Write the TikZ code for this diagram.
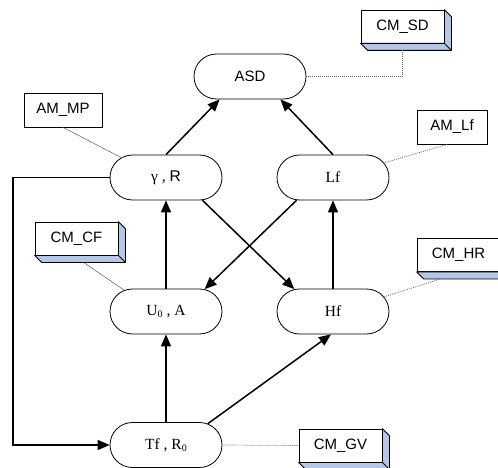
\documentclass[tikz,border=0pt]{standalone}
\usepackage{fontspec}
\setmainfont{Liberation Serif}
\newfontfamily\arialf{Liberation Sans}
\usetikzlibrary{arrows.meta,shapes.misc}
\definecolor{shadeblue}{HTML}{B4C7E7}
\newcommand\subz{\raisebox{-0.12em}{\fontsize{10}{10}\selectfont 0}}
\newcommand\extrude[1]{%
  \filldraw[fill=shadeblue,draw=black,line width=0.8pt,line join=round]
    (#1.north east) -- ([shift={(7pt,-7pt)}]#1.north east) -- ([shift={(7pt,-7pt)}]#1.south east)
    -- ([shift={(7pt,-7pt)}]#1.south west) -- (#1.south west) -- (#1.south east) -- cycle;
  \draw[line width=0.8pt] (#1.south east) -- ([shift={(7pt,-7pt)}]#1.south east);}
\tikzset{
  state/.style={rounded rectangle, rounded rectangle arc length=180, draw=black, line width=0.8pt,
    minimum width=112pt, minimum height=45pt, inner sep=0pt, fill=white,
    font=\fontsize{15.5}{15.5}\selectfont},
  label3d/.style={rectangle, draw=black, line width=0.8pt, fill=white, minimum width=83pt,
    minimum height=33pt, inner sep=0pt, font=\arialf\fontsize{15}{15}\selectfont},
  labelbox/.style={rectangle, draw=black, line width=0.8pt, fill=white, minimum height=34pt,
    inner sep=0pt, font=\arialf\fontsize{15}{15}\selectfont},
  arr/.style={line width=1.5pt, -{Triangle[length=12pt,width=10pt]}},
  dotl/.style={gray!80!black, line width=0.7pt, dash pattern=on 1pt off 1pt},
  thinl/.style={gray!70!black, line width=0.5pt},
}
\begin{document}
\begin{tikzpicture}[x=1pt,y=-1pt]
\useasboundingbox (0,0) rectangle (498,468);
\begin{scope}
\clip (0,0) rectangle (498,468);
% state nodes
\node[state,font=\arialf\fontsize{15}{15}\selectfont] (asd) at (250,76.5) {ASD};
\node[state] (gr) at (166,177.5) {γ , {\arialf R}};
\node[state] (lf) at (333,177.5) {Lf};
\node[state] (u0) at (166,311.5) {U\subz\ , A};
\node[state] (hf) at (333,311.5) {Hf};
\node[state] (tf) at (166,445) {Tf , R\subz};
% label boxes
\node[labelbox,minimum width=78pt] (ammp) at (63,110) {AM\_MP};
\node[labelbox,minimum width=70pt] (amlf) at (452,127) {AM\_Lf};
\node[label3d] (cmsd) at (402.5,26.5) {CM\_SD};
\node[label3d] (cmcf) at (76.5,238.5) {CM\_CF};
\node[label3d] (cmhr) at (458.5,255) {CM\_HR};
\node[label3d] (cmgv) at (340.5,445.5) {CM\_GV};
\extrude{cmsd}
\extrude{cmcf}
\extrude{cmhr}
\extrude{cmgv}
% annotation connectors
\draw[dotl] (asd.east) -| ([yshift=-7pt]cmsd.south);
\draw[thinl] (ammp.south) -- (gr.156);
\draw[dotl] ([xshift=-5pt]amlf.south) -- (lf.16);
\draw[thinl] ([shift={(7pt,-7pt)}]cmcf.south) -- (u0.153);
\draw[dotl] ([shift={(-18pt,-7pt)}]cmhr.south) -- (hf.16);
\draw[dotl] (tf.east) -- (cmgv.west);
% arrows
\draw[arr] (gr.north) -- (asd.217);
\draw[arr] (lf.north) -- (asd.323);
\draw[arr] (u0.north) -- (gr.south);
\draw[arr] (hf.north) -- (lf.south);
\draw[arr] (gr.328) -- (hf.150);
\draw[arr] (lf.212) -- (u0.30);
\draw[arr] (tf.north) -- (u0.south);
\draw[arr] (tf.27) -- (hf.265);
\coordinate (fb) at (13,177.5);
\draw[arr] (gr.west) -- (fb) |- (tf.west);
\end{scope}
\end{tikzpicture}
\end{document}
